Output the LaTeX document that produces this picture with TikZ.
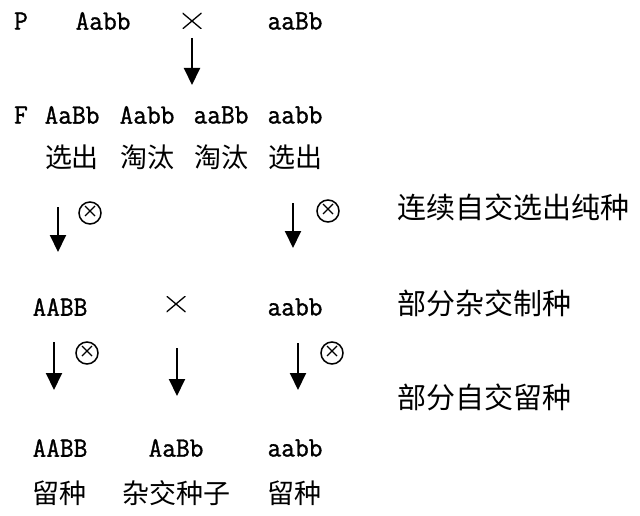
\documentclass[tikz,border=0pt]{standalone}
\usepackage{fontspec}
\setmainfont{Latin Modern Mono}[FakeBold=1.2, FakeStretch=0.95]
\newfontfamily\cjk{Noto Sans CJK SC}
\usetikzlibrary{arrows.meta}
\tikzset{
  gen/.style={inner sep=0pt, font=\fontsize{28}{28}\selectfont},
  cn/.style={inner sep=0pt, font=\cjk\fontsize{27}{27}\selectfont},
  note/.style={inner sep=0pt, anchor=west, font=\cjk\fontsize{29}{29}\selectfont},
  crossmark/.style={inner sep=0pt, minimum width=19pt, minimum height=16pt,
    path picture={\draw[line width=1.3pt]
      (path picture bounding box.north west) -- (path picture bounding box.south east)
      (path picture bounding box.north east) -- (path picture bounding box.south west);}},
  arr/.style={line width=2pt, -{Triangle[width=16pt,length=17pt]}},
  selfx/.style={circle, draw, line width=1.5pt, minimum size=22pt, inner sep=0pt,
    path picture={\draw[line width=1.4pt]
      ([shift={(-5pt,-3pt)}]path picture bounding box.center) -- ([shift={(5pt,7pt)}]path picture bounding box.center)
      ([shift={(5pt,-3pt)}]path picture bounding box.center) -- ([shift={(-5pt,7pt)}]path picture bounding box.center);}}
}
\begin{document}
\begin{tikzpicture}[x=1pt,y=-1pt]
\fill[white] (0,0) rectangle (640,516);
\useasboundingbox (0,0) rectangle (640,516);
% P row
\node[gen] (P) at (21,21) {P};
\node[gen] (p1) at (103,21) {Aabb};
\node[crossmark] (px) at (192,21) {};
\node[gen] (p2) at (295,21) {aaBb};
\coordinate (a0s) at (192,38);
\coordinate (a0e) at (192,85);
\draw[arr] (a0s) -- (a0e);
% F row
\node[gen] (F) at (21,115) {F};
\node[gen] (f1) at (72,115) {AaBb};
\node[gen] (f2) at (147,115) {Aabb};
\node[gen] (f3) at (221,115) {aaBb};
\node[gen] (f4) at (295,115) {aabb};
\node[cn] (c1) at (72,157) {选出};
\node[cn] (c2) at (147,157) {淘汰};
\node[cn] (c3) at (221,157) {淘汰};
\node[cn] (c4) at (295,157) {选出};
% first selfing
\coordinate (a1s) at (58,207);
\coordinate (a1e) at (58,252);
\draw[arr] (a1s) -- (a1e);
\node[selfx] (s1) at (90,213) {};
\coordinate (a2s) at (293,203);
\coordinate (a2e) at (293,248);
\draw[arr] (a2s) -- (a2e);
\node[selfx] (s2) at (328,211) {};
\node[note] (n1) at (397,207) {连续自交选出纯种};
% pure lines
\node[gen] (g1) at (60,307) {AABB};
\node[crossmark] (gx) at (176,304) {};
\node[gen] (g2) at (295,307) {aabb};
\node[note] (n2) at (397,303) {部分杂交制种};
% second arrows
\coordinate (b1s) at (54,342);
\coordinate (b1e) at (54,390);
\draw[arr] (b1s) -- (b1e);
\node[selfx] (s3) at (87,353) {};
\coordinate (b2s) at (177,348);
\coordinate (b2e) at (177,396);
\draw[arr] (b2s) -- (b2e);
\coordinate (b3s) at (298,343);
\coordinate (b3e) at (298,390);
\draw[arr] (b3s) -- (b3e);
\node[selfx] (s4) at (332,353) {};
\node[note] (n3) at (397,397) {部分自交留种};
% bottom
\node[gen] (h1) at (60,448) {AABB};
\node[gen] (h2) at (176,448) {AaBb};
\node[gen] (h3) at (295,448) {aabb};
\node[cn] (d1) at (59,493) {留种};
\node[cn] (d2) at (176,493) {杂交种子};
\node[cn] (d3) at (294,493) {留种};
\end{tikzpicture}
\end{document}
